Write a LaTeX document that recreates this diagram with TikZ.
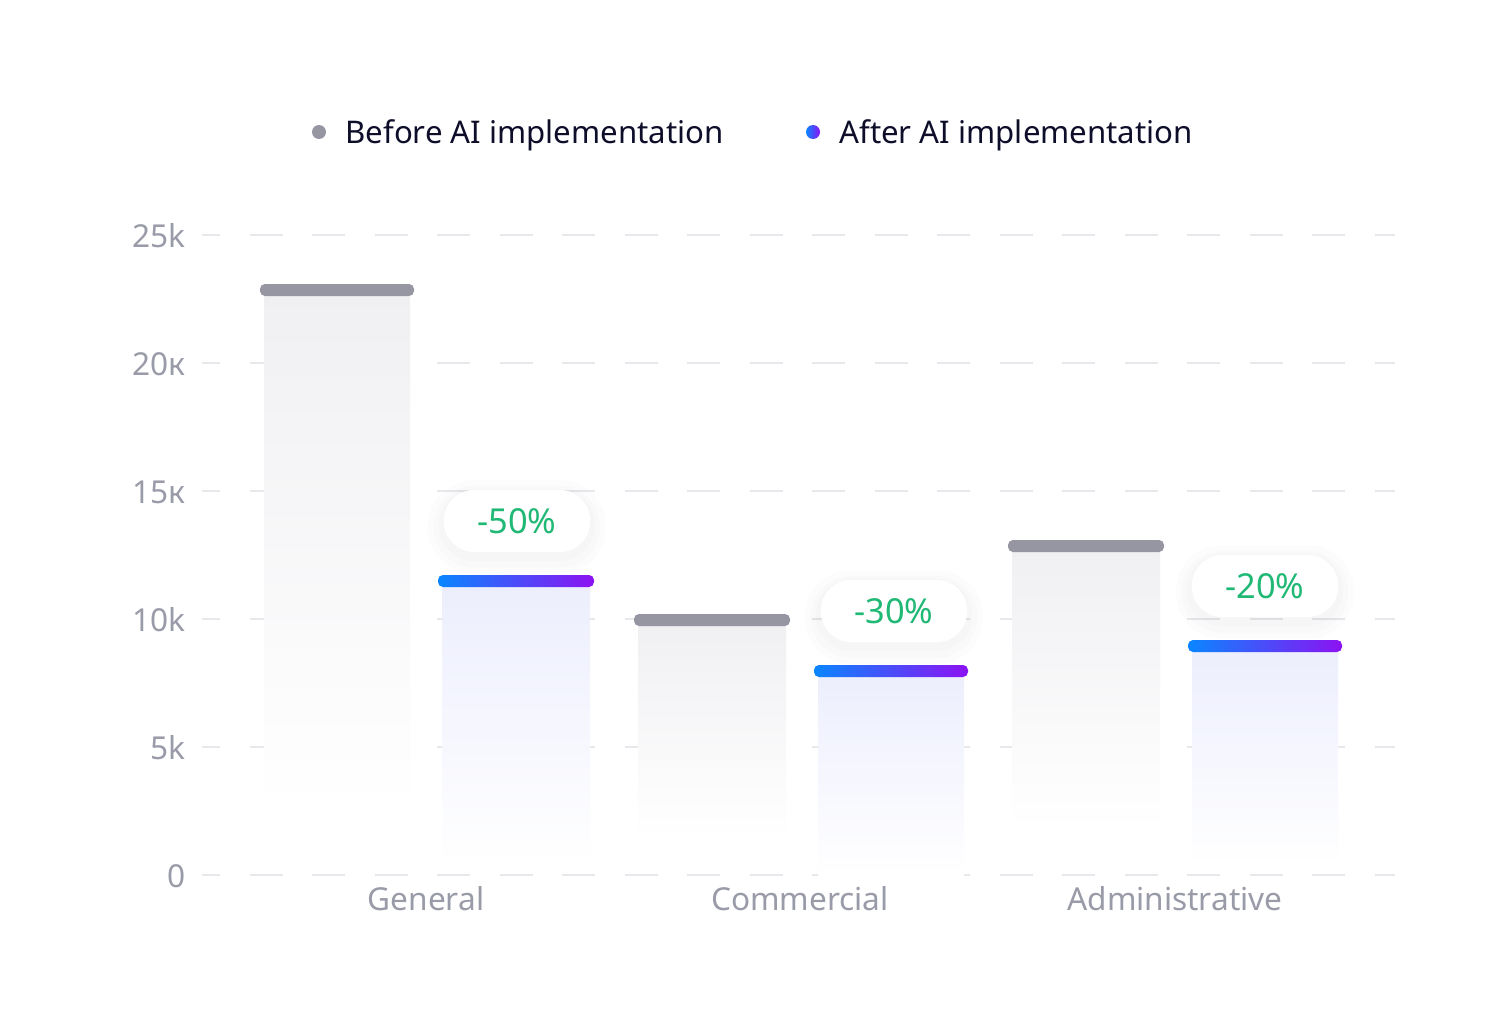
\documentclass[tikz,border=0pt]{standalone}
\usepackage{fontspec}
\setmainfont{Noto Sans}
\usepackage{xcolor}
\usepackage{tikz}
\usetikzlibrary{positioning}

\definecolor{axisgray}{HTML}{9A9BA8}
\definecolor{gridgray}{HTML}{E7E7EC}
\definecolor{capgray}{HTML}{9596A2}
\definecolor{bargray}{HTML}{F0F0F3}
\definecolor{barblue}{HTML}{ECEEFD}
\definecolor{capcyan}{HTML}{0A86FF}
\definecolor{capblue}{HTML}{0C0CEC}
\definecolor{capviolet}{HTML}{8C12F2}
\definecolor{badgegreen}{HTML}{1FB874}
\definecolor{legendink}{HTML}{0E0E2B}

\tikzset{
  ylabel/.style={anchor=east, inner sep=0pt, text=axisgray, font=\fontsize{15.8}{19}\selectfont},
  catlabel/.style={anchor=base, inner sep=0pt, text=axisgray, font=\fontsize{15.8}{19}\selectfont},
  legendlabel/.style={anchor=base west, inner sep=0pt, text=legendink, font=\fontsize{15.6}{19}\selectfont},
  gridline/.style={draw=gridgray, line width=1pt, dash pattern=on 16.5pt off 14.75pt, dash phase=7.5pt},
  beforecap/.style={fill=capgray, rounded corners=2.5pt},
  aftercap/.style={left color=capcyan, middle color=capblue, right color=capviolet, rounded corners=2.5pt},
  badge/.style={fill=white, rounded corners=15pt, minimum width=73pt, minimum height=31pt,
    text=badgegreen, font=\fontsize{17.2}{20}\selectfont,
    preaction={draw=black, draw opacity=0.012, line width=16pt, transform canvas={yshift=-3pt}},
    preaction={draw=black, draw opacity=0.012, line width=10pt, transform canvas={yshift=-3pt}},
    preaction={draw=black, draw opacity=0.012, line width=5pt, transform canvas={yshift=-2pt}}},
}

\begin{document}
\begin{tikzpicture}[x=0.5pt, y=-0.5pt]
  \useasboundingbox[fill=white] (0,0) rectangle (1506,1022);

  % grid and y axis
  \foreach \v/\lab [count=\i] in {0/0, 5/5k, 10/10k, 15/15к, 20/20к, 25/25k} {
    \draw[gridline] (202,{875-25.6*\v}) -- (1395,{875-25.6*\v});
    \node[ylabel] (ytick\i) at (186,{876-25.6*\v}) {\lab};
  }

  % legend
  \fill[capgray] (319,132) circle (7);
  \node[legendlabel] (legbefore) at (345,144) {Before AI implementation};
  \shade[left color=capcyan, middle color=capblue, right color=capviolet] (813,132) circle (7);
  \node[legendlabel] (legafter) at (839,144) {After AI implementation};

  % General
  \shade[top color=bargray, bottom color=white] (264,290) rectangle (410,810);
  \fill[beforecap] (260,284) rectangle (414,296);
  \shade[top color=barblue, bottom color=white] (442,582) rectangle (590,865);
  \shade[aftercap] (438,575) rectangle (594,587);
  \node[badge] (badgegen) at (517,521) {-50\%};

  % Commercial
  \shade[top color=bargray, bottom color=white] (638,620) rectangle (786,840);
  \fill[beforecap] (634,614) rectangle (790,626);
  \shade[top color=barblue, bottom color=white] (818,672) rectangle (964,875);
  \shade[aftercap] (814,665) rectangle (968,677);
  \node[badge] (badgecom) at (894,611) {-30\%};

  % Administrative
  \shade[top color=bargray, bottom color=white] (1012,546) rectangle (1160,830);
  \fill[beforecap] (1008,540) rectangle (1164,552);
  \shade[top color=barblue, bottom color=white] (1192,646) rectangle (1338,865);
  \shade[aftercap] (1188,640) rectangle (1342,652);
  \node[badge] (badgeadm) at (1265,586) {-20\%};

  % categories
  \node[catlabel] (catgen) at (426,910) {General};
  \node[catlabel] (catcom) at (800,910) {Commercial};
  \node[catlabel] (catadm) at (1175,910) {Administrative};
\end{tikzpicture}
\end{document}
